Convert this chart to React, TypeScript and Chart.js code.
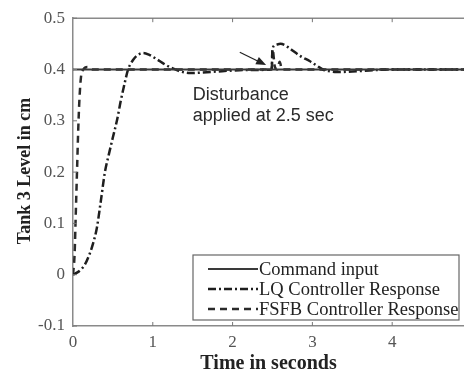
import React, { useEffect, useRef } from "react";
import { Chart, registerables } from "chart.js";

Chart.register(...registerables);

// ---- Data ----
const cmdTime = [0, 4.9];
const cmdLevel = [0.4, 0.4];

const lqTime = [0, 0.05, 0.1, 0.15, 0.2, 0.25, 0.3, 0.35, 0.4, 0.45, 0.5, 0.55, 0.6, 0.65, 0.69, 0.75, 0.8, 0.88, 0.95, 1.05, 1.15, 1.25, 1.35, 1.47, 1.6, 1.8, 2.0, 2.2, 2.49, 2.5, 2.54, 2.6, 2.7, 2.76, 2.85, 2.97, 3.05, 3.13, 3.2, 3.3, 3.5, 3.8, 4.1, 4.9];
const lqLevel = [0, 0.004, 0.01, 0.02, 0.037, 0.06, 0.092, 0.145, 0.2, 0.235, 0.268, 0.3, 0.34, 0.375, 0.4, 0.418, 0.427, 0.432, 0.429, 0.42, 0.41, 0.402, 0.396, 0.393, 0.394, 0.396, 0.398, 0.399, 0.4, 0.44, 0.448, 0.45, 0.443, 0.436, 0.426, 0.416, 0.408, 0.4, 0.397, 0.395, 0.396, 0.399, 0.4, 0.4];

const fsfbTime = [0, 0.02, 0.035, 0.05, 0.065, 0.08, 0.1, 0.13, 0.18, 0.24, 0.3, 2.49, 2.5, 2.53, 2.56, 2.59, 2.62, 2.7, 4.9];
const fsfbLevel = [0, 0.04, 0.12, 0.2, 0.28, 0.34, 0.385, 0.4, 0.405, 0.4, 0.4, 0.4, 0.44, 0.405, 0.4, 0.415, 0.4, 0.4, 0.4];

const seriesLabels = ["Command input", "LQ Controller Response", "FSFB Controller Response"];
const xTicks = [0, 1, 2, 3, 4];
const yTicks = [-0.1, 0, 0.1, 0.2, 0.3, 0.4, 0.5];
const yTickLabels = ["-0.1", "0", "0.1", "0.2", "0.3", "0.4", "0.5"];
const xTitle = "Time in seconds";
const yTitle = "Tank 3 Level in cm";
const noteLines = ["Disturbance", "applied at 2.5 sec"];

const SERIF = "'Liberation Serif', 'Times New Roman', serif";
const SANS = "'Liberation Sans', Arial, sans-serif";

const dashes: number[][] = [[], [8, 3, 2, 3], [7, 5]];
const widths = [2, 2.5, 2.5];
const colors = ["#3a3a3a", "#1e1e1e", "#2a2a2a"];

const pts = (t: number[], v: number[]) => t.map((x, i) => ({ x, y: v[i] }));

const decorPlugin = {
  id: "decor",
  afterDraw(chart: any) {
    const { ctx, chartArea, scales } = chart;
    const xs = scales.x;
    const ys = scales.y;
    ctx.save();
    // top border
    ctx.strokeStyle = "#8a8a8a";
    ctx.lineWidth = 1.5;
    ctx.beginPath();
    ctx.moveTo(chartArea.left, chartArea.top);
    ctx.lineTo(chartArea.right, chartArea.top);
    ctx.stroke();
    // inward ticks
    ctx.lineWidth = 1;
    ctx.strokeStyle = "#777";
    ctx.beginPath();
    xTicks.forEach((t) => {
      if (t === 0) return;
      const px = xs.getPixelForValue(t);
      ctx.moveTo(px, chartArea.bottom);
      ctx.lineTo(px, chartArea.bottom - 4);
      ctx.moveTo(px, chartArea.top);
      ctx.lineTo(px, chartArea.top + 4);
    });
    yTicks.forEach((v) => {
      const py = ys.getPixelForValue(v);
      ctx.moveTo(chartArea.left, py);
      ctx.lineTo(chartArea.left + 4, py);
    });
    ctx.stroke();

    // axis titles
    ctx.fillStyle = "#222";
    ctx.font = `bold 20px ${SERIF}`;
    ctx.textAlign = "center";
    ctx.textBaseline = "middle";
    ctx.fillText(xTitle, (chartArea.left + chartArea.right) / 2, 364);
    ctx.font = `bold 18px ${SERIF}`;
    ctx.save();
    ctx.translate(25, 171);
    ctx.rotate(-Math.PI / 2);
    ctx.fillText(yTitle, 0, 0);
    ctx.restore();

    // annotation text
    ctx.font = `18px ${SANS}`;
    ctx.fillStyle = "#2a2a2a";
    ctx.textAlign = "left";
    ctx.textBaseline = "alphabetic";
    const tx = xs.getPixelForValue(1.5);
    ctx.fillText(noteLines[0], tx, ys.getPixelForValue(0.34));
    ctx.fillText(noteLines[1], tx, ys.getPixelForValue(0.34) + 21);

    // arrow
    const ax0 = xs.getPixelForValue(2.09), ay0 = ys.getPixelForValue(0.4336);
    const ax1 = xs.getPixelForValue(2.42), ay1 = ys.getPixelForValue(0.4086);
    const ang = Math.atan2(ay1 - ay0, ax1 - ax0);
    ctx.strokeStyle = "#222";
    ctx.fillStyle = "#222";
    ctx.lineWidth = 1.3;
    ctx.beginPath();
    ctx.moveTo(ax0, ay0);
    ctx.lineTo(ax1 - 6 * Math.cos(ang), ay1 - 6 * Math.sin(ang));
    ctx.stroke();
    ctx.beginPath();
    ctx.moveTo(ax1, ay1);
    ctx.lineTo(ax1 - 10 * Math.cos(ang) + 4 * Math.sin(ang), ay1 - 10 * Math.sin(ang) - 4 * Math.cos(ang));
    ctx.lineTo(ax1 - 10 * Math.cos(ang) - 4 * Math.sin(ang), ay1 - 10 * Math.sin(ang) + 4 * Math.cos(ang));
    ctx.closePath();
    ctx.fill();

    // legend
    const bx = 193, by = 255, bw = 266, bh = 65;
    ctx.fillStyle = "#fff";
    ctx.fillRect(bx, by, bw, bh);
    ctx.strokeStyle = "#666";
    ctx.lineWidth = 1.2;
    ctx.strokeRect(bx, by, bw, bh);
    ctx.font = `18.5px ${SERIF}`;
    ctx.textBaseline = "alphabetic";
    ctx.textAlign = "left";
    seriesLabels.forEach((lab, i) => {
      const cy = by + 14 + i * 20;
      ctx.strokeStyle = colors[i];
      ctx.lineWidth = widths[i];
      ctx.setLineDash(dashes[i]);
      ctx.beginPath();
      ctx.moveTo(bx + 15, cy);
      ctx.lineTo(bx + 65, cy);
      ctx.stroke();
      ctx.setLineDash([]);
      ctx.fillStyle = "#222";
      ctx.fillText(lab, bx + 66, cy + 6);
    });
    ctx.restore();
  },
};

export default function App() {
  const ref = useRef<HTMLCanvasElement>(null);
  useEffect(() => {
    if (!ref.current) return;
    const series = [pts(cmdTime, cmdLevel), pts(lqTime, lqLevel), pts(fsfbTime, fsfbLevel)];
    const chart = new Chart(ref.current, {
      type: "line",
      data: {
        datasets: series.map((d, i) => ({
          label: seriesLabels[i],
          data: d,
          borderColor: colors[i],
          borderWidth: widths[i],
          borderDash: dashes[i],
          pointRadius: 0,
          fill: false,
          tension: 0,
          cubicInterpolationMode: i === 0 ? "default" : "monotone",
        })) as any,
      },
      options: {
        animation: false,
        responsive: false,
        maintainAspectRatio: false,
        layout: { padding: { top: 17, right: 0, left: 0, bottom: 0 } },
        plugins: { legend: { display: false }, tooltip: { enabled: false } },
        scales: {
          x: {
            type: "linear",
            min: 0,
            max: 4.9,
            afterBuildTicks: (s: any) => {
              s.ticks = xTicks.map((v) => ({ value: v }));
            },
            afterFit: (s: any) => {
              s.height = 50;
            },
            ticks: {
              color: "#555",
              font: { family: SERIF, size: 17 },
              padding: 6,
              maxRotation: 0,
              autoSkip: false,
              callback: (v: any) => String(v),
            },
            grid: { display: false, drawTicks: false },
            border: { display: true, color: "#8a8a8a", width: 1.5 },
          },
          y: {
            type: "linear",
            min: -0.1,
            max: 0.5,
            afterBuildTicks: (s: any) => {
              s.ticks = yTicks.map((v) => ({ value: v }));
            },
            afterFit: (s: any) => {
              s.width = 73;
            },
            ticks: {
              color: "#555",
              font: { family: SERIF, size: 17 },
              padding: 8,
              autoSkip: false,
              callback: (v: any) => {
                const i = yTicks.findIndex((t) => Math.abs(t - v) < 1e-6);
                return i >= 0 ? yTickLabels[i] : "";
              },
            },
            grid: { display: false, drawTicks: false },
            border: { display: true, color: "#8a8a8a", width: 1.5 },
          },
        },
      },
      plugins: [decorPlugin],
    });
    return () => chart.destroy();
  }, []);
  return (
    <div style={{ position: "fixed", left: 0, top: 0, width: 464, height: 376, background: "#fff" }}>
      <canvas ref={ref} width={464} height={376} style={{ width: 464, height: 376 }} />
    </div>
  );
}
